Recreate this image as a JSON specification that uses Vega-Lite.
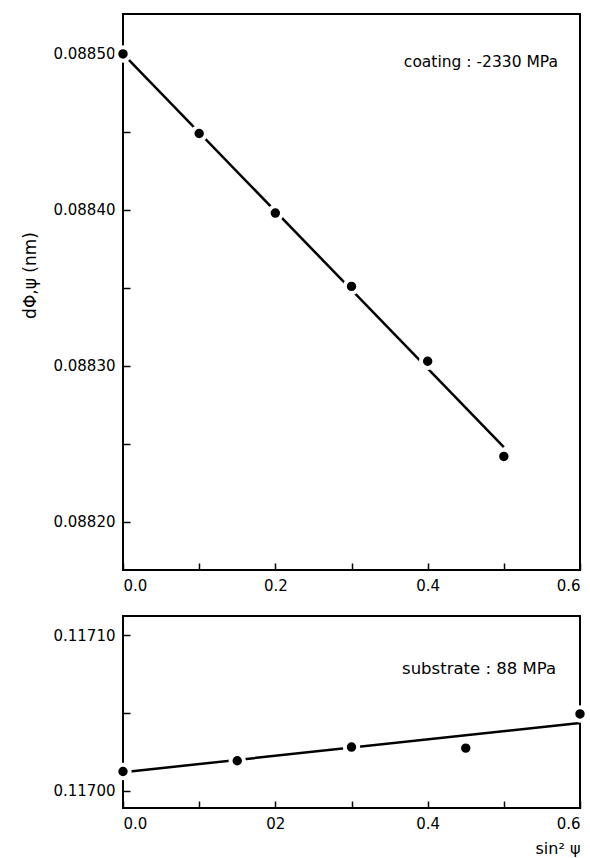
{
  "$schema": "https://vega.github.io/schema/vega-lite/v6.json",
  "padding": {"left": 20, "top": 13, "right": 5, "bottom": 0},
  "background": "white",
  "spacing": 21,
  "datasets": {
    "coating": [
      {"sin2psi": 0.0, "d": 0.08850},
      {"sin2psi": 0.1, "d": 0.088449},
      {"sin2psi": 0.2, "d": 0.088398},
      {"sin2psi": 0.3, "d": 0.088351},
      {"sin2psi": 0.4, "d": 0.088303},
      {"sin2psi": 0.5, "d": 0.088242}
    ],
    "coatingFit": [
      {"sin2psi": 0.0, "d": 0.08850},
      {"sin2psi": 0.5, "d": 0.088248}
    ],
    "substrate": [
      {"sin2psi": 0.0, "d": 0.1170125},
      {"sin2psi": 0.15, "d": 0.1170194},
      {"sin2psi": 0.30, "d": 0.1170282},
      {"sin2psi": 0.45, "d": 0.1170275},
      {"sin2psi": 0.60, "d": 0.1170495}
    ],
    "substrateFit": [
      {"sin2psi": 0.0, "d": 0.117012},
      {"sin2psi": 0.6, "d": 0.1170437}
    ],
    "notes": [
      {"panel": "coating", "label": "coating : -2330 MPa"},
      {"panel": "substrate", "label": "substrate : 88 MPa"}
    ]
  },
  "vconcat": [
    {
      "width": 457,
      "height": 556,
      "layer": [
        {
          "data": {"name": "coatingFit"},
          "mark": {"type": "line", "color": "black", "strokeWidth": 2.5},
          "encoding": {
            "x": {"field": "sin2psi", "type": "quantitative",
                  "scale": {"domain": [0, 0.6], "nice": false, "zero": false},
                  "axis": {"values": [0, 0.1, 0.2, 0.3, 0.4, 0.5, 0.6],
                           "labelExpr": "round(datum.value*10) % 2 == 0 ? format(datum.value, '.1f') : ''",
                           "title": null}},
            "y": {"field": "d", "type": "quantitative",
                  "scale": {"domain": [0.0881692, 0.0885256], "nice": false, "zero": false},
                  "axis": {"values": [0.08820, 0.08825, 0.08830, 0.08835, 0.08840, 0.08845, 0.08850],
                           "labelExpr": "round(datum.value*100000) % 2 == 0 ? format(datum.value, '.5f') : ''",
                           "title": "dΦ,ψ (nm)", "titleFontSize": 17, "titleFontWeight": "normal",
                           "minExtent": 74, "maxExtent": 74,
                           "titlePadding": 9.5, "titleY": 261}}
          }
        },
        {
          "data": {"name": "coating"},
          "mark": {"type": "point", "filled": true, "shape": "circle", "size": 180,
                   "fill": "black", "stroke": "white", "strokeWidth": 4, "opacity": 1, "strokeOpacity": 1, "fillOpacity": 1},
          "encoding": {
            "x": {"field": "sin2psi", "type": "quantitative"},
            "y": {"field": "d", "type": "quantitative"}
          }
        },
        {
          "data": {"name": "notes"},
          "transform": [{"filter": "datum.panel == 'coating'"}],
          "mark": {"type": "text", "align": "right", "baseline": "middle",
                   "fontSize": 15.5, "font": "DejaVu Sans", "color": "black"},
          "encoding": {
            "text": {"field": "label"},
            "x": {"datum": 0.5711, "type": "quantitative"},
            "y": {"datum": 0.0884949, "type": "quantitative"}
          }
        }
      ]
    },
    {
      "width": 457,
      "height": 192,
      "layer": [
        {
          "data": {"name": "substrateFit"},
          "mark": {"type": "line", "color": "black", "strokeWidth": 2.5},
          "encoding": {
            "x": {"field": "sin2psi", "type": "quantitative",
                  "scale": {"domain": [0, 0.6], "nice": false, "zero": false},
                  "axis": {"values": [0, 0.1, 0.2, 0.3, 0.4, 0.5, 0.6],
                           "labelExpr": "datum.value == 0.2 ? '02' : (round(datum.value*10) % 2 == 0 ? format(datum.value, '.1f') : '')",
                           "title": "sin² ψ", "titleAnchor": "end", "titleFontSize": 16,
                           "titleFontWeight": "normal", "titlePadding": 9}},
            "y": {"field": "d", "type": "quantitative",
                  "scale": {"domain": [0.116989, 0.1171125], "nice": false, "zero": false},
                  "axis": {"values": [0.11700, 0.11705, 0.11710],
                           "labelExpr": "round(datum.value*100000) % 2 == 0 ? format(datum.value, '.5f') : ''",
                           "minExtent": 74, "maxExtent": 74,
                           "title": null}}
          }
        },
        {
          "data": {"name": "substrate"},
          "mark": {"type": "point", "filled": true, "shape": "circle", "size": 180,
                   "fill": "black", "stroke": "white", "strokeWidth": 4, "opacity": 1, "strokeOpacity": 1, "fillOpacity": 1},
          "encoding": {
            "x": {"field": "sin2psi", "type": "quantitative"},
            "y": {"field": "d", "type": "quantitative"}
          }
        },
        {
          "data": {"name": "notes"},
          "transform": [{"filter": "datum.panel == 'substrate'"}],
          "mark": {"type": "text", "align": "right", "baseline": "middle",
                   "fontSize": 16.5, "font": "DejaVu Sans", "color": "black"},
          "encoding": {
            "text": {"field": "label"},
            "x": {"datum": 0.5685, "type": "quantitative"},
            "y": {"datum": 0.1170782, "type": "quantitative"}
          }
        }
      ]
    }
  ],
  "config": {
    "font": "DejaVu Sans",
    "view": {"stroke": "black", "strokeWidth": 2},
    "axis": {
      "domain": false,
      "grid": false,
      "ticks": true,
      "tickSize": -7,
      "tickColor": "black",
      "tickWidth": 1.5,
      "labelPadding": 15,
      "labelFont": "DejaVu Sans",
      "labelFontSize": 15,
      "labelColor": "black",
      "titleFont": "DejaVu Sans",
      "titleColor": "black"
    }
  }
}
